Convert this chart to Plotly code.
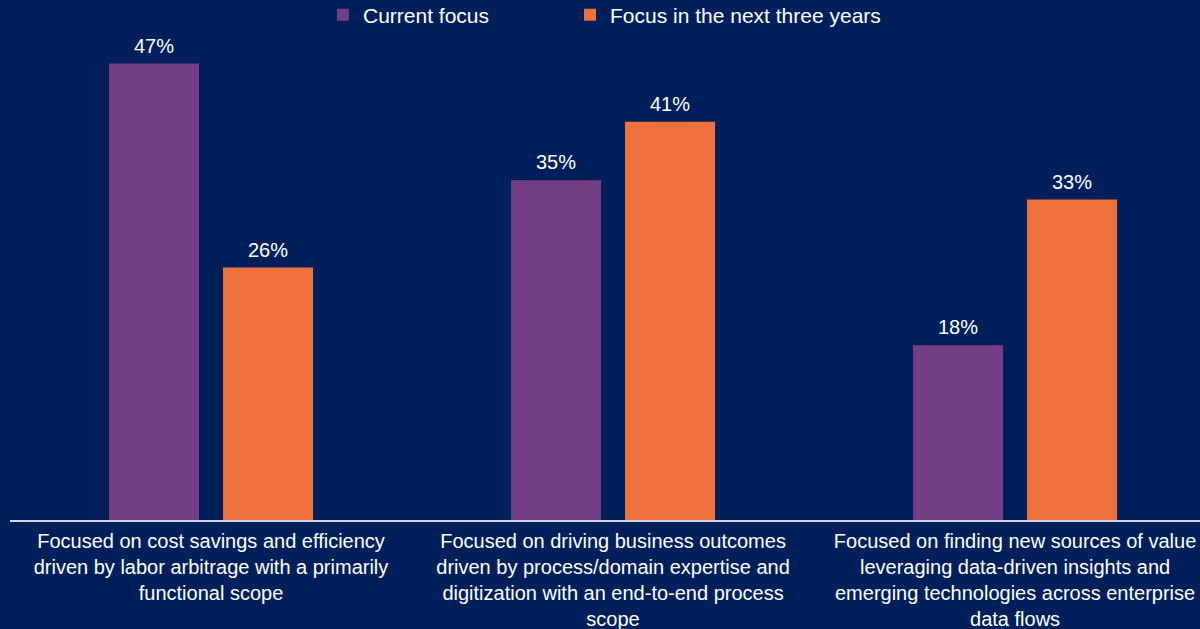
import plotly.graph_objects as go

categories = [
    "Focused on cost savings and efficiency<br>driven by labor arbitrage with a primarily<br>functional scope",
    "Focused on driving business outcomes<br>driven by process/domain expertise and<br>digitization with an end-to-end process<br>scope",
    "Focused on finding new sources of value<br>leveraging data-driven insights and<br>emerging technologies across enterprise<br>data flows",
]
current_focus = [47, 35, 18]
next_three_years = [26, 41, 33]
series_names = ["Current focus", "Focus in the next three years"]

BG = "#001f5b"
PURPLE = "#743e84"
ORANGE = "#ef713b"
FONT = "Arial, Liberation Sans, sans-serif"
BARGAP = 0.4328
BARGROUPGAP = 0.2105

xs = list(range(len(categories)))
fig = go.Figure()
series = [(series_names[0], current_focus, PURPLE, "legend"),
          (series_names[1], next_three_years, ORANGE, "legend2")]
slot = (1 - BARGAP) / len(series)
for k, (name, vals, col, leg) in enumerate(series):
    fig.add_trace(go.Bar(
        x=xs, y=vals, name=name, legend=leg,
        marker=dict(color=col, line=dict(width=0)),
        hoverinfo="skip",
    ))
    off = -(1 - BARGAP) / 2 + slot * (k + 0.5)
    for xi, v in zip(xs, vals):
        fig.add_annotation(
            x=xi + off, y=v, xref="x", yref="y", text=f"{v}%",
            showarrow=False, yanchor="bottom", yshift=5,
            font=dict(color="#ffffff", size=20, family=FONT),
        )

legend_common = dict(
    orientation="h", xanchor="left",
    yref="container", y=1 - 15 / 629, yanchor="middle",
    font=dict(size=21, color="#ffffff", family=FONT),
    bgcolor="rgba(0,0,0,0)",
)

fig.update_layout(
    width=1200, height=629,
    paper_bgcolor=BG, plot_bgcolor=BG,
    margin=dict(l=10, r=0, t=40, b=109),
    barmode="group", bargap=BARGAP, bargroupgap=BARGROUPGAP,
    font=dict(family=FONT, color="#ffffff", size=20),
    showlegend=True,
    legend=dict(x=0.263, **legend_common),
    legend2=dict(x=0.4706, **legend_common),
    xaxis=dict(
        tickmode="array", tickvals=xs, ticktext=categories,
        range=[-0.5, 2.46], showline=True, linecolor="#d9d9d9", linewidth=1.5,
        showgrid=False, zeroline=False, ticks="", tickangle=0,
        tickfont=dict(size=20, color="#ffffff", family=FONT),
        ticklabelstandoff=2,
        automargin=False,
    ),
    yaxis=dict(range=[0, 49.43], visible=False, showgrid=False, zeroline=False),
)

fig.write_html(
    "out.html",
    config={"displayModeBar": False},
    post_script="document.body.style.margin='0';document.body.style.overflow='hidden';",
)
